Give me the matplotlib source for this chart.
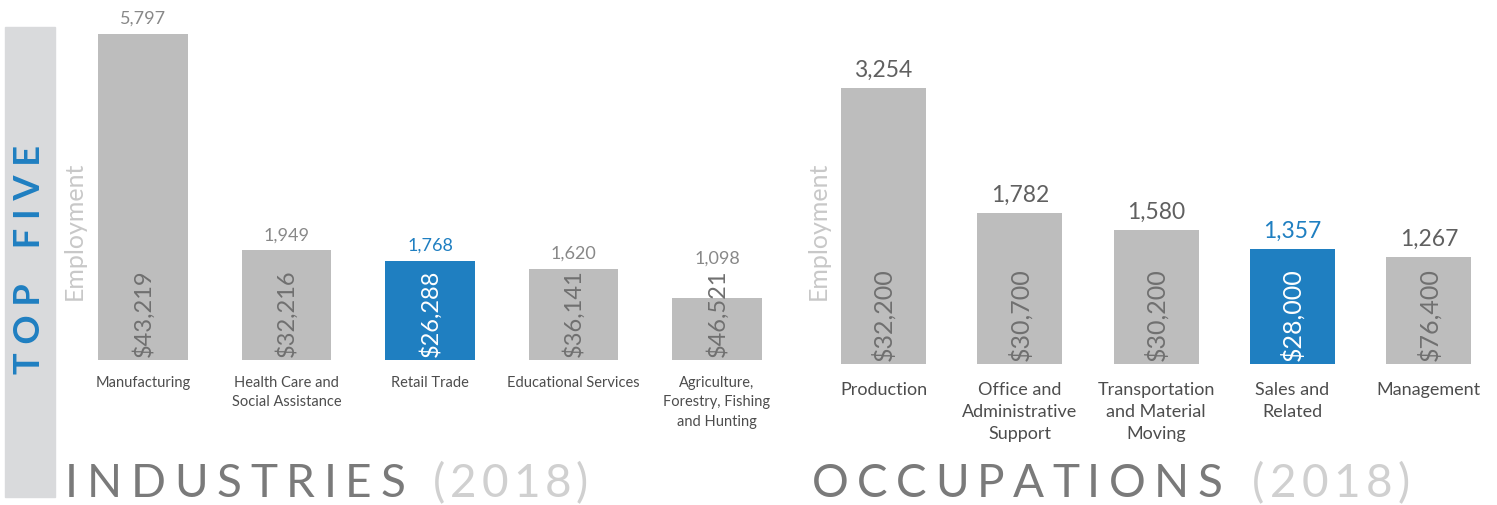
import matplotlib
matplotlib.use("Agg")
import matplotlib.pyplot as plt

# data
ind_names = ["Manufacturing", "Health Care and\nSocial Assistance", "Retail Trade",
             "Educational Services", "Agriculture,\nForestry, Fishing\nand Hunting"]
ind_jobs = [5797, 1949, 1768, 1620, 1098]
ind_wages = ["$43,219", "$32,216", "$26,288", "$36,141", "$46,521"]
ind_hi = 2

occ_names = ["Production", "Office and\nAdministrative\nSupport", "Transportation\nand Material\nMoving",
             "Sales and\nRelated", "Management"]
occ_jobs = [3254, 1782, 1580, 1357, 1267]
occ_wages = ["$32,200", "$30,700", "$30,200", "$28,000", "$76,400"]
occ_hi = 3

GRAY = "#bdbdbd"
BLUE = "#1f7fc1"
W, H = 1497, 506

plt.rcParams["font.family"] = ["Lato", "DejaVu Sans"]
fig = plt.figure(figsize=(W / 100, H / 100), dpi=100)
renderer = fig.canvas.get_renderer()


def px_axes(x0, x1, ytop, ybot):
    return fig.add_axes([x0 / W, (H - ybot) / H, (x1 - x0) / W, (ybot - ytop) / H])


def panel(ax, names, jobs, wages, hi, width, val_size, val_color, wage_size,
          name_size, name_off, name_ls):
    xs = range(len(jobs))
    colors = [BLUE if i == hi else GRAY for i in xs]
    ax.bar(xs, jobs, width=width, color=colors)
    ax.set_xlim(-0.5, len(jobs) - 0.5)
    ax.set_ylim(0, max(jobs))
    ax.axis("off")
    for i in xs:
        wc = "white" if i == hi else "#707070"
        w = ax.annotate(wages[i], (i, 0), xytext=(0, 4), textcoords="offset pixels",
                        ha="center", va="bottom", rotation=90, fontsize=wage_size, color=wc,
                        annotation_clip=False)
        # push the value label up if the wage text sticks out of the bar
        wage_top = w.get_window_extent(renderer).y1
        bar_top = ax.transData.transform((i, jobs[i]))[1]
        extra = max(0, wage_top - bar_top - 5)
        c = BLUE if i == hi else val_color
        ax.annotate(f"{jobs[i]:,}", (i, jobs[i]), xytext=(0, 8 + extra), textcoords="offset pixels",
                    ha="center", va="bottom", fontsize=val_size, color=c, annotation_clip=False)
        ax.annotate(names[i], (i, 0), xytext=(0, -name_off), textcoords="offset pixels",
                    ha="center", va="top", fontsize=name_size, color="#4d4d4d",
                    linespacing=name_ls, annotation_clip=False)


def tracked(x0, x1, y, s, size, color):
    # spread letters evenly between x0 and x1 (pixels)
    arts = [fig.text(0, 0, ch, fontsize=size, color=color, ha="left", va="baseline") for ch in s]
    ws = [a.get_window_extent(renderer).width for a in arts]
    gap = (x1 - x0 - sum(ws)) / (len(s) - 1)
    cx = x0
    for a, wd in zip(arts, ws):
        a.set_position((cx / W, 1 - y / H))
        cx += wd + gap


ax1 = px_axes(71.25, 788.75, 35, 361)
panel(ax1, ind_names, ind_jobs, ind_wages, ind_hi, 0.627, 13, "#888888", 17, 10.5, 15, 1.5)

ax2 = px_axes(815.3, 1497, 89, 365)
panel(ax2, occ_names, occ_jobs, occ_wages, occ_hi, 0.623, 16.5, "#606060", 18, 13, 17, 1.45)

# side band
fig.patches.append(plt.Rectangle((5 / W, 8 / H), 50 / W, 470 / H, transform=fig.transFigure,
                                 color="#d9dadc", zorder=0))
fig.text(30 / W, 1 - 260 / H, "T O P    F I V E", rotation=90, ha="center", va="center",
         fontsize=26, fontweight="bold", color=BLUE)

fig.text(74 / W, 1 - 300 / H, "Employment", rotation=90, ha="center", va="bottom",
         fontsize=18, color="#c8c8c8")
fig.text(818 / W, 1 - 300 / H, "Employment", rotation=90, ha="center", va="bottom",
         fontsize=18, color="#c8c8c8")

# bottom titles
tracked(65, 405, 497, "INDUSTRIES", 33, "#7a7a7a")
tracked(433, 588, 497, "(2018)", 33, "#d0d0d0")
tracked(812, 1222, 497, "OCCUPATIONS", 33, "#7a7a7a")
tracked(1252, 1410, 497, "(2018)", 33, "#d0d0d0")

fig.savefig("out.png", dpi=100)
